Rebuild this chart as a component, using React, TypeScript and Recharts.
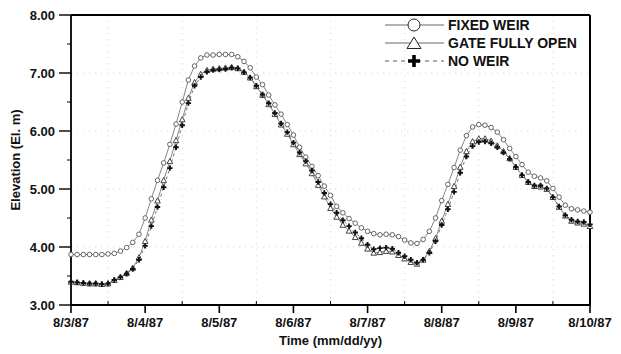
import { CartesianGrid, Label, Line, LineChart, ReferenceLine, XAxis, YAxis } from "recharts";

// Water surface elevation (El. m) every 2 hours, 8/3/87 00:00 to 8/10/87 00:00
const dayLabels = ["8/3/87", "8/4/87", "8/5/87", "8/6/87", "8/7/87", "8/8/87", "8/9/87", "8/10/87"];
const hoursPerStep = 2;

const fixedWeir = [
  3.87, 3.87, 3.87, 3.87, 3.87, 3.87,
  3.88, 3.89, 3.93, 3.99, 4.08, 4.22,
  4.5, 4.83, 5.15, 5.45, 5.77, 6.12,
  6.5, 6.88, 7.12, 7.26, 7.31, 7.31,
  7.32, 7.32, 7.32, 7.28, 7.2, 7.09,
  6.93, 6.8, 6.62, 6.45, 6.29, 6.11,
  5.93, 5.72, 5.55, 5.39, 5.23, 5.05,
  4.89, 4.7, 4.59, 4.49, 4.41, 4.33,
  4.27, 4.23, 4.21, 4.22, 4.21, 4.18,
  4.12, 4.07, 4.06, 4.13, 4.27, 4.5,
  4.8, 5.08, 5.37, 5.67, 5.92, 6.07,
  6.11, 6.1, 6.06, 5.98, 5.85, 5.7,
  5.56, 5.42, 5.29, 5.22, 5.19, 5.14,
  5.01, 4.86, 4.72, 4.66, 4.64, 4.62,
  4.6,
];

const gateFullyOpen = [
  3.4, 3.39, 3.38, 3.37, 3.37, 3.36,
  3.37, 3.43, 3.48, 3.55, 3.64, 3.82,
  4.1, 4.47, 4.8, 5.15, 5.48, 5.84,
  6.2, 6.57, 6.84, 6.98, 7.05, 7.07,
  7.08, 7.09, 7.1, 7.08, 7.02, 6.92,
  6.77, 6.62, 6.46, 6.29, 6.11, 5.95,
  5.77, 5.6, 5.44, 5.27, 5.07, 4.87,
  4.67, 4.52, 4.38, 4.28, 4.17, 4.07,
  3.97, 3.9, 3.91, 3.93, 3.92, 3.86,
  3.8, 3.74, 3.71, 3.78, 3.93, 4.15,
  4.45, 4.74, 5.05, 5.38, 5.65, 5.82,
  5.87, 5.87, 5.83, 5.75, 5.65, 5.53,
  5.38, 5.24, 5.12, 5.05, 5.04, 5.0,
  4.86, 4.69, 4.54, 4.45, 4.42, 4.4,
  4.36,
];

const noWeir = [
  3.4, 3.39, 3.38, 3.37, 3.37, 3.36,
  3.37, 3.43, 3.48, 3.54, 3.62, 3.78,
  4.02, 4.36, 4.69, 5.03, 5.36, 5.72,
  6.1, 6.48, 6.78, 6.93, 7.02, 7.05,
  7.06, 7.07, 7.09, 7.08, 7.01, 6.92,
  6.78, 6.63, 6.48, 6.31, 6.13, 5.98,
  5.8, 5.63, 5.48, 5.32, 5.12, 4.93,
  4.74, 4.59, 4.46, 4.36, 4.25, 4.15,
  4.04, 3.96, 3.98, 3.99, 3.97, 3.9,
  3.84, 3.78, 3.73, 3.78, 3.9, 4.1,
  4.38, 4.65, 4.95, 5.28, 5.56, 5.74,
  5.81, 5.82, 5.79, 5.72, 5.63, 5.52,
  5.38, 5.24, 5.12, 5.06, 5.06, 5.01,
  4.86, 4.7, 4.55, 4.47, 4.44, 4.43,
  4.39,
];

const elevationTicks = [3, 3.5, 4, 4.5, 5, 5.5, 6, 6.5, 7, 7.5, 8];
const dayTicks = [0, 0.5, 1, 1.5, 2, 2.5, 3, 3.5, 4, 4.5, 5, 5.5, 6, 6.5, 7];

const rows = fixedWeir.map((value, i) => ({
  day: (i * hoursPerStep) / 24,
  fixedWeir: value,
  gateFullyOpen: gateFullyOpen[i],
  noWeir: noWeir[i],
}));

const FONT = '"Liberation Sans", Arial, sans-serif';

function CircleDot(props: any) {
  const { cx, cy, index } = props;
  return <circle key={`c${index}`} cx={cx} cy={cy} r={2.3} fill="#fff" stroke="#555" strokeWidth={0.9} />;
}

function TriangleDot(props: any) {
  const { cx, cy, index } = props;
  const s = 2.8;
  return (
    <path
      key={`t${index}`}
      d={`M${cx},${cy - s}L${cx + s},${cy + s * 0.85}L${cx - s},${cy + s * 0.85}Z`}
      fill="#fff"
      stroke="#333"
      strokeWidth={0.9}
    />
  );
}

function PlusDot(props: any) {
  const { cx, cy, index } = props;
  const s = 2.7;
  return (
    <path
      key={`p${index}`}
      d={`M${cx - s},${cy}H${cx + s}M${cx},${cy - s}V${cy + s}`}
      stroke="#111"
      strokeWidth={1.9}
    />
  );
}

function DayTick({ x, y, payload }: any) {
  const major = Number.isInteger(payload.value);
  return (
    <g>
      {major ? (
        <line x1={x} x2={x} y1={y} y2={y + 8} stroke="#000" strokeWidth={1.6} />
      ) : (
        <line x1={x} x2={x} y1={y} y2={y - 4} stroke="#000" strokeWidth={1} />
      )}
      {major ? (
        <text x={x} y={y + 22} textAnchor="middle" fontFamily={FONT} fontWeight="bold" fontSize={13} fill="#111">
          {dayLabels[payload.value]}
        </text>
      ) : null}
    </g>
  );
}

function ElevationTick({ x, y, payload }: any) {
  const major = Number.isInteger(payload.value);
  return (
    <g>
      <line x1={x} x2={x - (major ? 12 : 4)} y1={y} y2={y} stroke="#000" strokeWidth={major ? 1.4 : 1} />
      {major ? (
        <text x={x - 16} y={y + 4.5} textAnchor="end" fontFamily={FONT} fontWeight="bold" fontSize={13} fill="#111">
          {payload.value.toFixed(2)}
        </text>
      ) : null}
    </g>
  );
}

function LegendBox() {
  const items = [
    { label: "FIXED WEIR", y: 11, kind: "circle" },
    { label: "GATE FULLY OPEN", y: 29, kind: "triangle" },
    { label: "NO WEIR", y: 47, kind: "plus" },
  ];
  return (
    <svg width={212} height={60} style={{ position: "absolute", left: 381, top: 14 }}>
      {items.map((item) => (
        <g key={item.label}>
          <line
            x1={4}
            x2={63}
            y1={item.y}
            y2={item.y}
            stroke={item.kind === "plus" ? "#444" : "#555"}
            strokeWidth={0.9}
            strokeDasharray={item.kind === "plus" ? "4 4" : undefined}
          />
          {item.kind === "circle" ? (
            <circle cx={33} cy={item.y} r={6} fill="#fff" stroke="#222" strokeWidth={1} />
          ) : null}
          {item.kind === "triangle" ? (
            <path
              d={`M33,${item.y - 6}L40,${item.y + 5.5}L26,${item.y + 5.5}Z`}
              fill="#fff"
              stroke="#222"
              strokeWidth={1}
            />
          ) : null}
          {item.kind === "plus" ? (
            <path d={`M27,${item.y}H39M33,${item.y - 6}V${item.y + 6}`} stroke="#000" strokeWidth={3.6} />
          ) : null}
          <text x={67} y={item.y + 5} fontFamily={FONT} fontWeight="bold" fontSize={14} fill="#111">
            {item.label}
          </text>
        </g>
      ))}
    </svg>
  );
}

export default function App() {
  return (
    <div style={{ position: "absolute", left: 0, top: 0, width: 621, height: 354, background: "#fff" }}>
      <LineChart width={621} height={354} data={rows} margin={{ top: 15, right: 31, bottom: 0, left: 0 }}>
        <CartesianGrid
          stroke="#d6d6d6"
          strokeDasharray="1 5"
          horizontalValues={[4, 5, 6, 7]}
          verticalValues={[0.5, 1.5, 2.5, 3.5, 4.5, 5.5, 6.5]}
        />
        <XAxis
          dataKey="day"
          type="number"
          domain={[0, 7]}
          ticks={dayTicks}
          interval={0}
          height={49}
          tickSize={0}
          tickMargin={0}
          tickLine={false}
          tick={<DayTick />}
          axisLine={{ stroke: "#000", strokeWidth: 1.8 }}
        >
          <Label
            value="Time (mm/dd/yy)"
            position="insideBottom"
            offset={9}
            style={{ fontFamily: FONT, fontWeight: "bold", fontSize: 13, fill: "#111" }}
          />
        </XAxis>
        <YAxis
          type="number"
          domain={[3, 8]}
          ticks={elevationTicks}
          interval={0}
          width={71}
          tickSize={0}
          tickMargin={0}
          tickLine={false}
          tick={<ElevationTick />}
          axisLine={{ stroke: "#000", strokeWidth: 1.8 }}
        >
          <Label
            value="Elevation (El. m)"
            angle={-90}
            position="insideLeft"
            offset={15}
            style={{ fontFamily: FONT, fontWeight: "bold", fontSize: 13, fill: "#111", textAnchor: "middle" }}
          />
        </YAxis>
        <ReferenceLine y={8} stroke="#000" strokeWidth={2} />
        <ReferenceLine x={7} stroke="#000" strokeWidth={2} />
        <Line
          dataKey="fixedWeir"
          type="linear"
          stroke="#666"
          strokeWidth={0.8}
          dot={CircleDot}
          activeDot={false}
          isAnimationActive={false}
        />
        <Line
          dataKey="gateFullyOpen"
          type="linear"
          stroke="#666"
          strokeWidth={0.8}
          dot={TriangleDot}
          activeDot={false}
          isAnimationActive={false}
        />
        <Line
          dataKey="noWeir"
          type="linear"
          stroke="#555"
          strokeWidth={0.8}
          strokeDasharray="3 3"
          dot={PlusDot}
          activeDot={false}
          isAnimationActive={false}
        />
      </LineChart>
      <LegendBox />
    </div>
  );
}
